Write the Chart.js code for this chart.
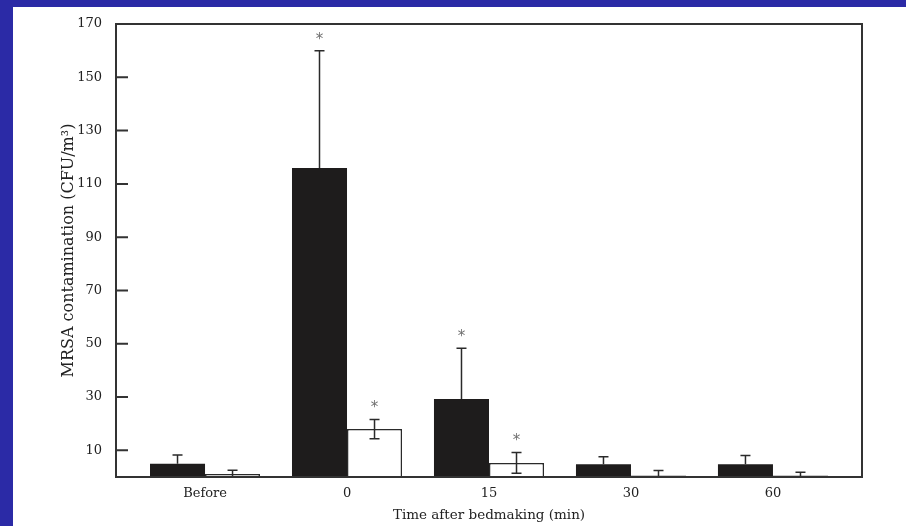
<!DOCTYPE html>
<html>
<head>
<meta charset="utf-8">
<script src="https://cdn.jsdelivr.net/npm/chart.js@4/dist/chart.umd.min.js"></script>
<style>
  html, body { margin: 0; padding: 0; background: #2b2aa6; width: 906px; height: 526px; overflow: hidden; }
  #frame { position: absolute; left: 13px; top: 7px; width: 893px; height: 519px; background: #ffffff; }
</style>
</head>
<body>
<div id="frame"><canvas id="chart" width="893" height="519"></canvas></div>
<script>
// values
const categories = ["Before", "0", "15", "30", "60"];
const solidValues = [5, 116, 29.3, 4.8, 4.8];
const solidErrors = [3.3, 44, 19, 2.8, 3.3];
const solidStars = [false, true, true, false, false];
const openValues = [1.1, 18, 5.3, 0.6, 0.6];
const openErrors = [1.4, 3.6, 3.9, 1.8, 1.2];
const openStars = [false, true, true, false, false];
const yTicks = [10, 30, 50, 70, 90, 110, 130, 150, 170];

const ink = "#2a2a2a";
const serif = "'DejaVu Serif', serif";

const errorBars = {
  id: "errorBars",
  afterDatasetsDraw(chart) {
    const ctx = chart.ctx;
    const y = chart.scales.y;
    const sets = [
      { values: solidValues, errors: solidErrors, stars: solidStars },
      { values: openValues, errors: openErrors, stars: openStars },
    ];
    ctx.save();
    ctx.strokeStyle = ink;
    ctx.lineWidth = 1.5;
    sets.forEach((set, d) => {
      const meta = chart.getDatasetMeta(d);
      meta.data.forEach((bar, i) => {
        const top = y.getPixelForValue(set.values[i] + set.errors[i]);
        // solid bars only show the upper half, open bars show both
        const lowVal = d === 0 ? set.values[i] : Math.max(0, set.values[i] - set.errors[i]);
        const low = y.getPixelForValue(lowVal);
        ctx.beginPath();
        ctx.moveTo(bar.x, low);
        ctx.lineTo(bar.x, top);
        ctx.moveTo(bar.x - 5, top);
        ctx.lineTo(bar.x + 5, top);
        if (d === 1 && set.values[i] - set.errors[i] > 0) {
          ctx.moveTo(bar.x - 5, low);
          ctx.lineTo(bar.x + 5, low);
        }
        ctx.stroke();
        if (set.stars[i]) {
          ctx.fillStyle = "#707070";
          ctx.font = "15px 'DejaVu Sans', sans-serif";
          ctx.textAlign = "center";
          ctx.textBaseline = "middle";
          ctx.fillText("*", bar.x, top - 11);
        }
      });
    });
    ctx.restore();
  },
};

const frameBox = {
  id: "frameBox",
  afterDraw(chart) {
    const { ctx, chartArea } = chart;
    const y = chart.scales.y;
    ctx.save();
    ctx.strokeStyle = "#333";
    ctx.lineWidth = 2;
    ctx.strokeRect(chartArea.left, chartArea.top, chartArea.right - chartArea.left, chartArea.bottom - chartArea.top);
    ctx.beginPath();
    yTicks.forEach((v) => {
      const py = y.getPixelForValue(v);
      ctx.moveTo(chartArea.left, py);
      ctx.lineTo(chartArea.left + 12, py);
    });
    ctx.stroke();
    ctx.restore();
  },
};

new Chart(document.getElementById("chart"), {
  type: "bar",
  data: {
    datasets: [
      {
        data: solidValues.map((v, i) => ({ x: i, y: v })),
        backgroundColor: "#1e1c1c",
        borderWidth: 0,
      },
      {
        data: openValues.map((v, i) => ({ x: i, y: v })),
        backgroundColor: "#ffffff",
        borderColor: ink,
        borderWidth: 1.5,
      },
    ],
  },
  options: {
    responsive: false,
    animation: false,
    categoryPercentage: 0.775,
    barPercentage: 1,
    layout: { padding: { top: 17, right: 44, left: 0, bottom: 0 } },
    plugins: { legend: { display: false }, tooltip: { enabled: false } },
    scales: {
      x: {
        type: "linear",
        offset: false,
        min: -0.627,
        max: 4.627,
        afterBuildTicks: (scale) => {
          scale.ticks = categories.map((c, i) => ({ value: i }));
        },
        afterFit: (scale) => { scale.height = 49; },
        grid: { display: false, offset: false },
        border: { display: true, color: "#333", width: 2 },
        ticks: {
          autoSkip: false,
          maxRotation: 0,
          padding: 1,
          color: "#222",
          font: { family: serif, size: 13 },
          callback: (value) => categories[value],
        },
        title: {
          display: true,
          text: "Time after bedmaking (min)",
          color: "#222",
          font: { family: serif, size: 13.5 },
          padding: { top: 0, bottom: 2 },
        },
      },
      y: {
        min: 0,
        max: 170,
        afterBuildTicks: (scale) => {
          scale.ticks = yTicks.map((v) => ({ value: v }));
        },
        afterFit: (scale) => { scale.width = 103; },
        grid: { display: false },
        border: { display: true, color: "#333", width: 2 },
        ticks: {
          padding: 6,
          color: "#222",
          font: { family: serif, size: 13 },
        },
        title: {
          display: true,
          text: "MRSA contamination (CFU/m\u00b3)",
          color: "#222",
          font: { family: serif, size: 16 },
          padding: { top: 46, bottom: 0 },
        },
      },
    },
  },
  plugins: [errorBars, frameBox],
});
</script>
</body>
</html>
